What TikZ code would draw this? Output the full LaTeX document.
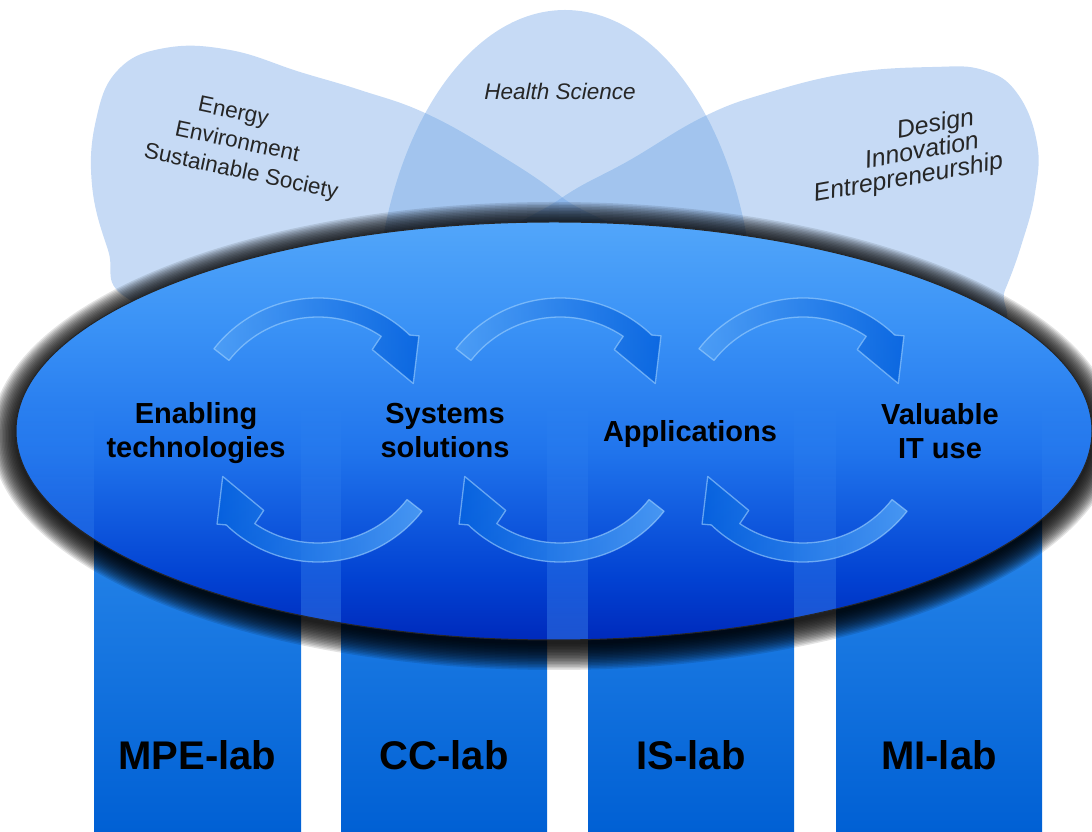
\documentclass[tikz,border=0pt]{standalone}
\usepackage{fontspec}
\setmainfont{Liberation Sans}
\usetikzlibrary{fadings}
\definecolor{petal}{RGB}{104,159,228}
\definecolor{eT}{RGB}{82,166,250}
\definecolor{eU}{RGB}{58,146,246}
\definecolor{eM}{RGB}{32,116,236}
\definecolor{eL}{RGB}{2,66,210}
\definecolor{eB}{RGB}{0,42,188}
\definecolor{colT}{RGB}{48,142,238}
\definecolor{colB}{RGB}{0,96,212}
\definecolor{stripc}{RGB}{90,170,255}
\definecolor{arrL}{RGB}{80,160,246}
\definecolor{arrD}{RGB}{5,98,222}
\definecolor{arrEdge}{RGB}{160,210,255}
\pgfdeclareverticalshading{ellsh}{100bp}{color(0bp)=(eB); color(25bp)=(eB); color(32.5bp)=(eL); color(47.5bp)=(eM); color(62.5bp)=(eU); color(75bp)=(eT); color(100bp)=(eT)}
\tikzfading[name=stripfade, top color=transparent!100, bottom color=transparent!0]
\newcommand\cycarrow[5]{%
  \begin{scope}[shift={(#1,#2)}]
    \shadedraw[arrowsty, left color=#4, right color=#5]
      ({142+#3}:132) arc[start angle={142+#3}, end angle={46+#3}, radius=132]
      -- ({43+#3}:138) -- ({26+#3}:106) -- ({56+#3}:97) -- ({56+#3}:113)
      arc[start angle={56+#3}, end angle={142+#3}, radius=113] -- cycle;
  \end{scope}}
\begin{document}
\begin{tikzpicture}[x=1pt,y=1pt,
  petalfill/.style={fill=petal, fill opacity=0.38},
  colbox/.style={top color=colT, bottom color=colB},
  stripsty/.style={fill=stripc, fill opacity=0.38, path fading=stripfade},
  arrowsty/.style={draw=arrEdge, draw opacity=0.6, line width=1.3pt, fill opacity=0.85, line join=round},
  lab/.style={font=\fontsize{29}{34}\selectfont\bfseries, align=center, inner sep=0pt, text=black},
  lablab/.style={font=\fontsize{40}{44}\selectfont\bfseries, inner sep=0pt, anchor=base, text=black},
  ptxt/.style={font=\fontsize{22.5}{28.5}\selectfont, align=center, inner sep=0pt, text=black!85},
  ptxti/.style={font=\fontsize{25}{24}\selectfont\itshape, align=center, inner sep=0pt, text=black!85}]
\useasboundingbox (0,0) rectangle (1092,832);
% petals
\fill[petalfill] plot[smooth cycle, tension=0.7] coordinates {(130,532) (108,582) (92,647) (96,712) (118,762) (165,784) (230,782) (300,760) (360,742) (425,719) (495,680) (563,634) (625,577) (450,502) (260,492)};
\fill[petalfill] (755,502) arc[start angle=0, end angle=180, x radius=190, y radius=320] -- cycle;
\fill[petalfill] plot[smooth cycle, tension=0.7] coordinates {(500,582) (560,633) (630,672) (703,715) (767,739) (850,759) (933,765) (983,762) (1017,739) (1037,689) (1035,639) (1022,589) (1005,542) (985,500) (800,490) (620,540)};
% columns
\shade[colbox] (94,0) rectangle (301,382);
\shade[colbox] (341,0) rectangle (547,382);
\shade[colbox] (588,0) rectangle (794,382);
\shade[colbox] (836,0) rectangle (1042,382);
% shadow
\foreach \k in {1,...,18}
  \fill[black, fill opacity=0.11] (554,396) ellipse [x radius={536+1.5*\k}, y radius={207+1.5*\k}];
% main ellipse
\shade[shading=ellsh] (554,401) ellipse [x radius=538, y radius=209];
\begin{scope}
  \clip (554,401) ellipse [x radius=538, y radius=209];
  \fill[stripsty] (0,150) rectangle (94,437);
  \fill[stripsty] (301,150) rectangle (341,437);
  \fill[stripsty] (547,150) rectangle (588,437);
  \fill[stripsty] (794,150) rectangle (836,437);
  \fill[stripsty] (1042,150) rectangle (1100,437);
\end{scope}
\draw[black!85, line width=1pt] (554,401) ellipse [x radius=538, y radius=209];
% cycle arrows
\cycarrow{318}{402}{0}{arrL}{arrD}
\cycarrow{318}{402}{180}{arrD}{arrL}
\cycarrow{560}{402}{0}{arrL}{arrD}
\cycarrow{560}{402}{180}{arrD}{arrL}
\cycarrow{803}{402}{0}{arrL}{arrD}
\cycarrow{803}{402}{180}{arrD}{arrL}
% texts
\node[ptxt, rotate=-12] (eee) at (237,689) {Energy\hspace*{20pt}\mbox{}\\Environment\\\hspace*{20pt}Sustainable Society};
\node[font=\fontsize{22.5}{27}\selectfont\itshape, inner sep=0pt, anchor=base, text=black!85] (hs) at (560,732) {Health Science};
\node[ptxti, rotate=10] (die) at (922,680) {\hspace*{36pt}Design\\Innovation\\Entrepreneurship\hspace*{36pt}\mbox{}};
\node[lab] (enab) at (196,399) {Enabling\\technologies};
\node[lab] (sys) at (445,401) {Systems\\solutions};
\node[lab, anchor=base] (app) at (690,390) {Applications};
\node[lab] (val) at (940,401) {Valuable\\IT use};
\node[lablab] (mpe) at (197.5,62) {MPE-lab};
\node[lablab] (cc) at (444,62) {CC-lab};
\node[lablab] (is) at (691,62) {IS-lab};
\node[lablab] (mi) at (939,62) {MI-lab};
\end{tikzpicture}
\end{document}
